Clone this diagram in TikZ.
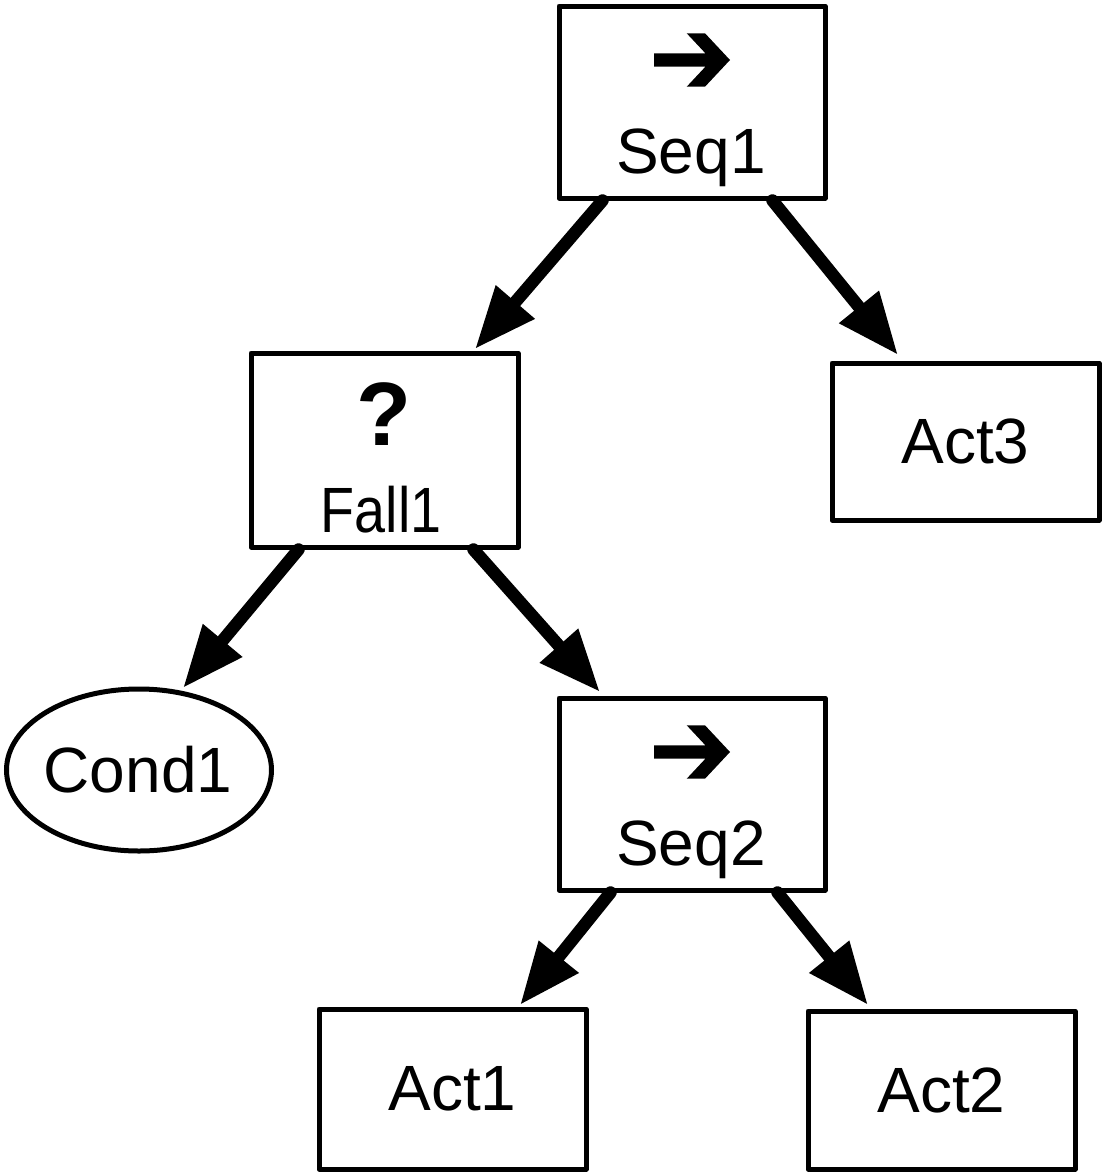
\documentclass[tikz,border=0pt]{standalone}
\usepackage{fontspec}
\setmainfont{Liberation Sans}
\usetikzlibrary{arrows.meta,shapes.geometric,calc}
\tikzset{
  box/.style={draw, line width=5pt, line join=round, inner sep=0pt, minimum width=266pt},
  ctl/.style={box, minimum height=192pt},
  oval/.style={draw, line width=5pt, ellipse, inner sep=0pt, minimum width=265pt, minimum height=162pt},
  lbl/.style={font=\fontsize{64}{64}\selectfont, inner sep=0pt},
  sym/.style={font=\bfseries\fontsize{90}{90}\selectfont, inner sep=0pt},
  edge/.style={line width=12.5pt, line cap=round, -{Triangle[length=62pt,width=48pt]}},
  seqarrow/.pic={\fill (-38,-6.7) -- (13.4,-6.7) -- (-5.3,-26.7) -- (13,-26.7) -- (38,0) -- (13,26.7) -- (-5.3,26.7) -- (13.4,6.7) -- (-38,6.7) -- cycle;}
}
\begin{document}
\begin{tikzpicture}[x=1pt,y=-1pt]
\useasboundingbox (0,0) rectangle (1104,1175);
% nodes
\node[ctl] (seq1) at (692,102) {};
\node[ctl, minimum width=267pt, minimum height=194pt] (fall1) at (384.5,450) {};
\node[box, minimum width=267pt, minimum height=157pt] (act3) at (965.5,441.5) {};
\node[oval] (cond1) at (139,770) {};
\node[ctl] (seq2) at (692,794) {};
\node[box, minimum width=267pt, minimum height=160pt] (act1) at (452.5,1089) {};
\node[box, minimum width=267pt, minimum height=158pt] (act2) at (941.5,1090) {};
% labels
\pic at (692,60) {seqarrow};
\node[lbl, anchor=base] (seq1t) at (691,173) {Seq1};
\node[sym, anchor=base] (fall1s) at (384,445) {?};
\node[lbl, anchor=base] (fall1t) at (381,532) {\scalebox{0.87}[1]{Fall1}};
\node[lbl] (act3t) at (965.5,441.5) {Act3};
\node[lbl] (cond1t) at (138,770) {Cond1};
\pic at (692,752) {seqarrow};
\node[lbl, anchor=base] (seq2t) at (691,865) {Seq2};
\node[lbl] (act1t) at (452.5,1089) {Act1};
\node[lbl] (act2t) at (941.5,1090) {Act2};
% connector ends
\coordinate (a1s) at ($(seq1.south west)+(46,0)$);
\coordinate (a1e) at (475,349);
\coordinate (a2s) at ($(seq1.south east)+(-55,0)$);
\coordinate (a2e) at (898,355);
\coordinate (a3s) at ($(fall1.south west)+(50,0)$);
\coordinate (a3e) at (183,688);
\coordinate (a4s) at ($(fall1.south east)+(-47,0)$);
\coordinate (a4e) at (600,692);
\coordinate (a5s) at ($(seq2.south west)+(54,0)$);
\coordinate (a5e) at (520,1005);
\coordinate (a6s) at ($(seq2.south east)+(-50,0)$);
\coordinate (a6e) at (868,1005);
\draw[edge] (a1s) -- (a1e);
\draw[edge] (a2s) -- (a2e);
\draw[edge] (a3s) -- (a3e);
\draw[edge] (a4s) -- (a4e);
\draw[edge] (a5s) -- (a5e);
\draw[edge] (a6s) -- (a6e);
\end{tikzpicture}
\end{document}
